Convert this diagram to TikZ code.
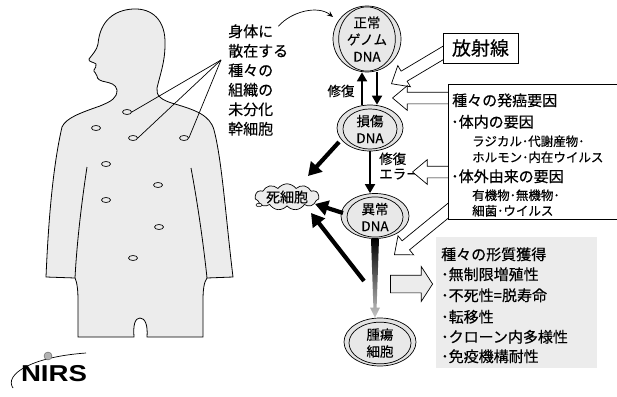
\documentclass[tikz,border=0pt]{standalone}
\usepackage{fontspec}
\setmainfont{Noto Sans CJK JP}[FakeBold=0.3]
\newfontfamily\logofont{Liberation Sans}
\usetikzlibrary{arrows.meta,shapes.geometric,shapes.symbols,shapes.arrows,calc}
\newcommand{\fsz}[1]{\fontsize{#1}{#1}\selectfont}

\begin{document}
\begin{tikzpicture}[x=1pt,y=-1pt,
  every node/.style={inner sep=0pt},
  bodyfill/.style={fill=gray!15, draw=black, line width=0.8pt},
  cellspot/.style={draw=black, line width=0.7pt, ellipse, minimum width=9pt, minimum height=5pt},
  biglbl/.style={anchor=base west, font=\fsz{15}},
  smalllbl/.style={anchor=base west, font=\fsz{12.5}},
  outerdna/.style={ellipse, draw=black, line width=0.7pt, fill=gray!22},
  innerdna/.style={ellipse, draw=black, line width=0.7pt, fill=gray!18, align=center, font=\fontsize{13.5}{17}\selectfont},
  thinarrow/.style={line width=1.8pt, -{Triangle[length=9pt,width=10pt]}},
  fatarrow/.style={line width=4.2pt, -{Triangle[length=13pt,width=15pt]}},
  hollow/.style={single arrow, draw=black, line width=0.7pt, fill=white, anchor=tip,
    inner sep=0pt, minimum width=0pt, inner ysep=5.5pt,
    single arrow head extend=6.5pt, single arrow tip angle=80},
  factorbox/.style={draw=black, line width=0.8pt, fill=white},
]
\useasboundingbox (0,0) rectangle (617,396);

% ---------- human silhouette ----------
\path[bodyfill]
  (133,9) .. controls (152,8) and (166,20) .. (165,45)
  .. controls (165,62) and (160,75) .. (157,88)
  .. controls (156,95) and (160,100) .. (175,104)
  .. controls (195,110) and (210,115) .. (214,130)
  .. controls (222,160) and (226,220) .. (233,277)
  -- (207,278)
  .. controls (204,282) and (203,290) .. (203,300)
  -- (203,337) -- (147,337)
  .. controls (148,325) and (145,318) .. (140,318)
  .. controls (135,318) and (133,325) .. (134,337)
  -- (78,337) -- (78,300)
  .. controls (78,290) and (77,282) .. (75,278)
  -- (46,277)
  .. controls (48,230) and (52,170) .. (62,127)
  .. controls (66,118) and (80,113) .. (100,106)
  .. controls (112,101) and (117,98) .. (117,90)
  .. controls (116,84) and (110,83) .. (106,82)
  .. controls (100,81) and (97,79) .. (97,76)
  .. controls (97,73) and (93,72) .. (94,70)
  .. controls (95,68) and (97,66) .. (96,64)
  .. controls (94,62) and (88,62) .. (89,59)
  .. controls (92,55) and (97,50) .. (98,44)
  .. controls (100,20) and (115,10) .. (133,9) -- cycle;
% inner arm lines
\draw[line width=0.8pt] (191,168) .. controls (197,200) and (203,240) .. (207,278);
\draw[line width=0.8pt] (87,167) .. controls (82,200) and (77,240) .. (75,278);

% stem cells scattered in the body
\foreach \n/\px/\py in {c1/127/112, c2/96/128, c3/133/138, c4/184/138, c5/106/164,
                        c6/158/185, c7/106/200, c8/159/227, c9/133/258}
  \node[cellspot] (\n) at (\px,\py) {};

% ---------- stem cell label ----------
\node[biglbl] (s1) at (228,37) {身体に};
\node[biglbl] (s2) at (228,56.5) {散在する};
\node[biglbl] (s3) at (228,76) {種々の};
\node[biglbl] (s4) at (228,95.5) {組織の};
\node[biglbl] (s5) at (228,115) {未分化};
\node[biglbl] (s6) at (228,134.5) {幹細胞};
\coordinate (hub) at (221,60);
\draw[line width=0.7pt] (hub) -- (c1.east);
\draw[line width=0.7pt] (hub) -- (c3.east);
\draw[line width=0.7pt] (hub) -- (c4.east);

% ---------- DNA states ----------
\node[outerdna, minimum width=68pt, minimum height=66pt] (norm) at (367,39) {};
\node[innerdna, minimum width=44pt, minimum height=58pt] (normin) at (367,39) {正常\\ゲノム\\DNA};

\node[outerdna, minimum width=66pt, minimum height=46pt] (dmg) at (370,128) {};
\node[innerdna, minimum width=54pt, minimum height=31pt] (dmgin) at (370,129) {損傷\\DNA};

\node[outerdna, minimum width=68pt, minimum height=45pt] (abn) at (375,216) {};
\node[innerdna, minimum width=56pt, minimum height=32pt] (abnin) at (375,217) {異常\\DNA};

\node[outerdna, minimum width=72pt, minimum height=48pt] (tum) at (380,342) {};
\node[innerdna, minimum width=62pt, minimum height=37pt] (tumin) at (380,343) {腫瘍\\細胞};

% curved arrow from the label to the normal genome
\coordinate (normtop) at (333,17);
\draw[line width=0.7pt, -{Stealth[length=6pt,width=5pt]}]
  ($(s1.east)+(5,-5)$) .. controls ($(s1.east)+(18,-20)$) and (318,5) .. (normtop);

% repair / damage arrows
\coordinate (colup) at (362,0);
\coordinate (coldn) at (377,0);
\coordinate (colerr) at (370,0);
\draw[thinarrow] (colup |- dmg.north) -- (colup |- norm.south);
\draw[thinarrow] (coldn |- norm.south) -- (coldn |- dmg.north);
\draw[thinarrow] (colerr |- dmg.south) -- (colerr |- abn.north);
\node[font=\fsz{13.5}] (rep) at (341,91) {修復};
\node[font=\fontsize{13.5}{15}\selectfont, align=left, anchor=west] (err) at (379,166) {修復\\エラー};

% ---------- cell death ----------
\node[cloud, cloud puffs=11, cloud puff arc=110, aspect=3.3, draw=black, line width=0.7pt,
      fill=gray!15, inner sep=0pt, minimum width=64pt, minimum height=22pt,
      font=\fsz{14}] (dead) at (287,197) {死細胞};
\node[ellipse, draw=black, line width=0.5pt, fill=gray!15, minimum width=6pt, minimum height=3.5pt] (puff) at (259,205) {};

\coordinate (d1s) at (339,142);
\coordinate (d1e) at (308,176);
\coordinate (d2s) at (343,213);
\coordinate (d2e) at (315,204);
\coordinate (d3s) at (364,281);
\coordinate (d3e) at (311,213);
\draw[fatarrow] (d1s) -- (d1e);
\draw[fatarrow] (d2s) -- (d2e);
\draw[fatarrow] (d3s) -- (d3e);

% progression from abnormal DNA to tumour cell
\path let \p1=(abn.south), \p2=(tum.north) in
  coordinate (wtop) at (\x1,\y1) coordinate (wbot) at (\x1,\y2);
\shade[top color=black, bottom color=gray!45]
  ($(wtop)+(-4,0)$) -- ($(wtop)+(4,0)$) -- ($(wbot)+(1.6,-10)$) -- ($(wbot)+(5,-10)$)
  -- (wbot) -- ($(wbot)+(-5,-10)$) -- ($(wbot)+(-1.6,-10)$) -- cycle;

% ---------- external factors ----------
\node[hollow, minimum height=74pt, rotate=210.8] (ha) at (391,84) {};
\node[hollow, minimum height=62pt, rotate=180] (hb) at (392,98) {};
\node[hollow, minimum height=42pt, rotate=180] (hc) at (412,172) {};
\node[hollow, minimum height=82pt, rotate=219.3] (hd) at (394,255) {};

\node[factorbox, minimum width=75pt, minimum height=30pt, font=\fsz{19}] (rad) at (480.5,48) {放射線};

\node[factorbox, anchor=north west, minimum width=169pt, minimum height=135pt] (fac) at (448,83.5) {};
\node[biglbl] (f1) at (452,106) {種々の発癌要因};
\node[biglbl] (f2) at (451,127.5) {･体内の要因};
\node[smalllbl] (f3) at (472,146) {ラジカル･代謝産物･};
\node[smalllbl] (f4) at (472,162) {ホルモン･内在ウイルス};
\node[biglbl] (f5) at (451,182) {･体外由来の要因};
\node[smalllbl] (f6) at (472,200) {有機物･無機物･};
\node[smalllbl] (f7) at (472,215.5) {細菌･ウイルス};

% ---------- acquired traits ----------
\node[fill=gray!15, anchor=north west, minimum width=161pt, minimum height=131pt] (trait) at (436,237) {};
\node[single arrow, draw=black, line width=0.7pt, fill=gray!15, anchor=tip, inner sep=0pt,
      minimum width=0pt, inner ysep=8.5pt, single arrow head extend=8.5pt,
      single arrow tip angle=114, minimum height=42pt] (he) at (433,284) {};
\node[biglbl] (t1) at (441,260) {種々の形質獲得};
\node[biglbl] (t2) at (441,280) {･無制限増殖性};
\node[biglbl] (t3) at (441,301) {･不死性=脱寿命};
\node[biglbl] (t4) at (441,322.5) {･転移性};
\node[biglbl] (t5) at (441,342.5) {･クローン内多様性};
\node[biglbl] (t6) at (441,362) {･免疫機構耐性};

% ---------- logo ----------
\draw[line width=0.7pt] (13,388) .. controls (4,375) and (30,357) .. (86,353);
\node[circle, fill=gray!60, draw=gray!70!black, line width=0.4pt, minimum size=8pt] (ball) at (48,356) {};
\node[font=\logofont\bfseries\fsz{23}, xscale=1.2] (nirs) at (54,374) {NIRS};
\end{tikzpicture}
\end{document}
